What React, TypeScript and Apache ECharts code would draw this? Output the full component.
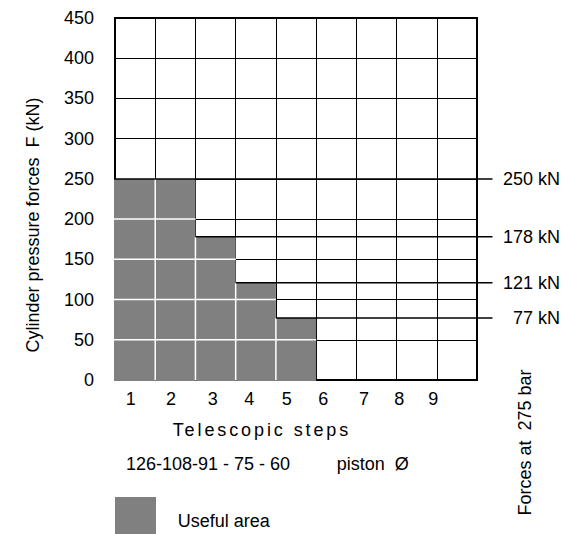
import React, { useEffect, useRef } from 'react';
import * as echarts from 'echarts';

// ---- data ----
const steps = ['1', '2', '3', '4', '5', '6', '7', '8', '9'];
const yMin = 0;
const yMax = 450;
const yInterval = 50;
// useful-area height (kN) of each telescopic step column
const usefulHeights = [250, 250, 178, 121, 77];
// force levels at 275 bar and the column index where each line starts
const forceLevels = [250, 178, 121, 77];
const forceStartColumn = [0, 2, 3, 4];
const forceUnit = 'kN';

// ---- layout (axis-unit positions of the step labels, as drawn in the reference) ----
const stepLabelPos = [0.39, 1.39, 2.43, 3.34, 4.27, 5.18, 6.19, 7.07, 7.91];

const FONT = 'Liberation Sans, Arial, Helvetica, sans-serif';
const FS = 18;
const GRAY = '#808080';

export default function App() {
  const ref = useRef<HTMLDivElement>(null);

  useEffect(() => {
    if (!ref.current) return;
    const el = ref.current;
    const chart = echarts.init(el, undefined, { renderer: 'svg' });

    const spacing = () => {
      el.querySelectorAll('text').forEach((t) => {
        if (t.textContent === 'Telescopic steps') t.setAttribute('letter-spacing', '2.9');
      });
    };
    chart.on('finished', spacing);

    const txt = (text: string, x: number, y: number, align: string, extra: any = {}) => ({
      type: 'text',
      x,
      y,
      ...extra,
      style: { text, fill: '#000', fontSize: FS, fontFamily: FONT, align, verticalAlign: 'middle' },
    });

    const option: any = {
      animation: false,
      backgroundColor: '#fff',
      textStyle: { fontFamily: FONT },
      grid: {
        left: 115,
        top: 18,
        width: 362,
        height: 362,
        show: true,
        borderColor: '#000',
        borderWidth: 2,
        backgroundColor: 'transparent',
      },
      xAxis: {
        type: 'value',
        min: 0,
        max: steps.length,
        interval: 1,
        axisLine: { show: false },
        axisTick: { show: false },
        axisLabel: { show: false },
        splitLine: { show: true, lineStyle: { color: '#000', width: 1 } },
      },
      yAxis: {
        type: 'value',
        min: yMin,
        max: yMax,
        interval: yInterval,
        axisLine: { show: false },
        axisTick: { show: false },
        axisLabel: { show: true, color: '#000', fontSize: FS, margin: 21, fontFamily: FONT },
        splitLine: { show: true, lineStyle: { color: '#000', width: 1 } },
      },
      series: [
        {
          type: 'custom',
          name: 'Useful area',
          z: 2,
          clip: false,
          data: usefulHeights.map((h, i) => [i, h]),
          renderItem: (params: any, api: any) => {
            const i = api.value(0);
            const h = api.value(1);
            const tl = api.coord([i, h]);
            const br = api.coord([i + 1, 0]);
            const left = tl[0] - (i === 0 ? 1 : 0);
            const children: any[] = [
              {
                type: 'rect',
                shape: { x: left, y: tl[1], width: br[0] - left, height: br[1] - tl[1] + 1 },
                style: { fill: GRAY },
              },
            ];
            for (let v = yMin + yInterval; v < h; v += yInterval) {
              const p = api.coord([i, v]);
              children.push({
                type: 'line',
                shape: { x1: left, y1: p[1], x2: br[0], y2: p[1] },
                style: { stroke: '#fff', lineWidth: 1.5 },
              });
            }
            if (i > 0) {
              const prev = usefulHeights[i - 1];
              const top = api.coord([i, Math.min(prev, h)]);
              children.push({
                type: 'line',
                shape: { x1: tl[0], y1: top[1], x2: tl[0], y2: br[1] },
                style: { stroke: '#fff', lineWidth: 1.5 },
              });
            }
            return { type: 'group', children };
          },
        },
        {
          type: 'custom',
          name: 'Forces',
          z: 3,
          clip: false,
          data: forceLevels.map((v, i) => [forceStartColumn[i], v]),
          renderItem: (params: any, api: any) => {
            const start = api.value(0);
            const v = api.value(1);
            const p0 = api.coord([start, v]);
            const p1 = api.coord([steps.length, v]);
            return {
              type: 'group',
              children: [
                {
                  type: 'line',
                  shape: { x1: p0[0] - (start === 0 ? 1 : 0), y1: p0[1], x2: p1[0] + 15.5, y2: p0[1] },
                  style: { stroke: '#000', lineWidth: 1.5 },
                },
                {
                  type: 'text',
                  x: 560,
                  y: p0[1],
                  style: {
                    text: `${v} ${forceUnit}`,
                    fill: '#000',
                    fontSize: FS,
                    fontFamily: FONT,
                    align: 'right',
                    verticalAlign: 'middle',
                  },
                },
              ],
            };
          },
        },
        {
          type: 'custom',
          name: 'Steps',
          z: 3,
          clip: false,
          data: steps.map((s, i) => [stepLabelPos[i], 0]),
          renderItem: (params: any, api: any) => {
            const p = api.coord([api.value(0), api.value(1)]);
            return {
              type: 'text',
              x: p[0],
              y: p[1] + 19,
              style: {
                text: steps[params.dataIndex],
                fill: '#000',
                fontSize: FS,
                fontFamily: FONT,
                align: 'center',
                verticalAlign: 'middle',
              },
            };
          },
        },
      ],
      graphic: [
        txt('Cylinder pressure forces  F (kN)', 33, 225, 'center', { rotation: Math.PI / 2 }),
        txt('Forces at  275 bar', 525, 442.5, 'center', { rotation: Math.PI / 2 }),
        txt('Telescopic steps', 172.7, 429.5, 'left'),
        txt('126-108-91 - 75 - 60', 126, 463.5, 'left'),
        txt('piston  Ø', 336.7, 463.5, 'left'),
        {
          type: 'rect',
          shape: { x: 115, y: 497, width: 41, height: 41 },
          style: { fill: GRAY },
        },
        txt('Useful area', 177.7, 521, 'left'),
      ],
    };

    chart.setOption(option);
    spacing();
    const t = setTimeout(spacing, 50);

    return () => {
      clearTimeout(t);
      chart.dispose();
    };
  }, []);

  return (
    <div
      ref={ref}
      style={{ position: 'absolute', left: 0, top: 0, width: 573, height: 534, background: '#fff' }}
    />
  );
}
